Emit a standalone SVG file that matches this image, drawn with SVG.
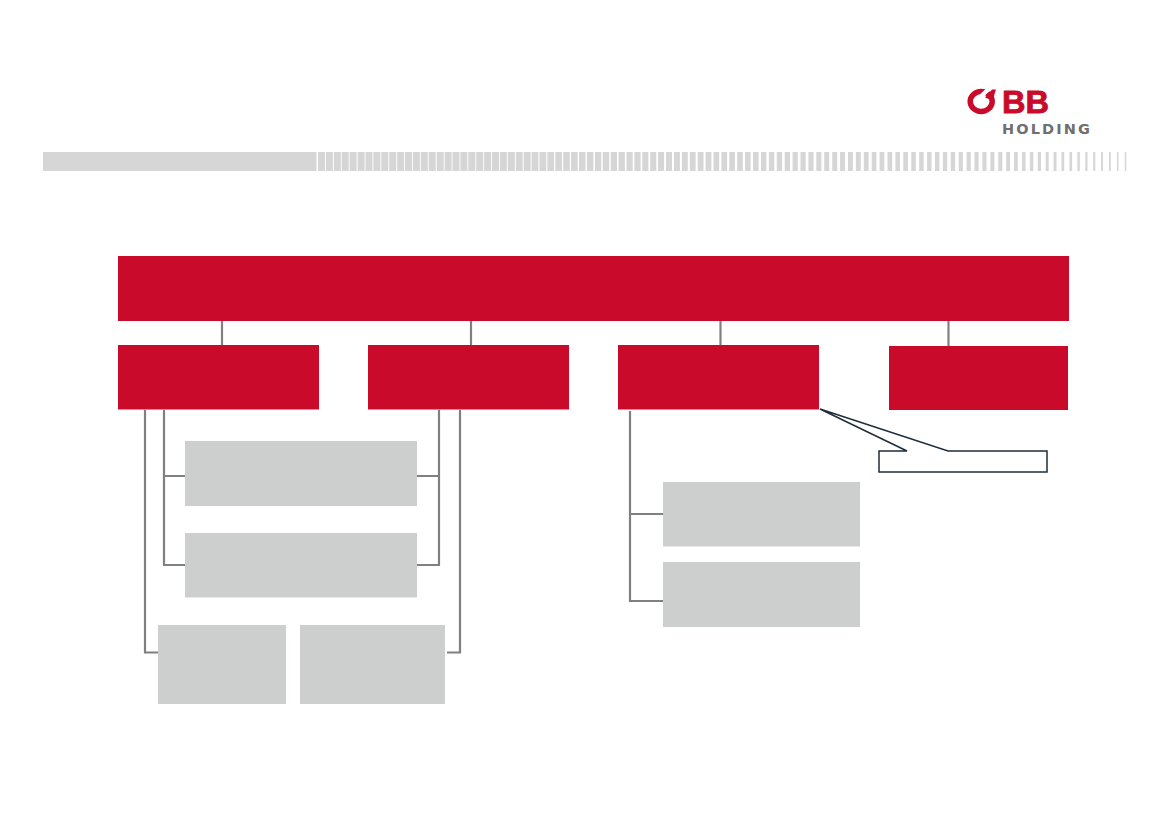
<svg xmlns="http://www.w3.org/2000/svg" width="1169" height="826" viewBox="0 0 1169 826">
<style>
.red{fill:#c90a2a}
.grey{fill:#cdcfce}
.band{fill:#d6d6d6}
.conn{fill:none;stroke:#808080;stroke-width:2.2}
</style>
<rect width="1169" height="826" fill="#fff"/>
<g id="logo">
<ellipse cx="981.200" cy="101.500" rx="11" ry="10" fill="none" stroke="#c90a2a" stroke-width="5.500"/>
<path d="M977 97L990 85L994 87L980 100Z" fill="#fff"/>
<path d="M985 97.500L992 89.500L996 89.500L992.500 100.500Z" fill="#c90a2a"/>
<text x="1002" y="113" font-size="31" fill="#c90a2a" stroke="#c90a2a" stroke-width="0.800" textLength="47" lengthAdjust="spacingAndGlyphs" font-family="'Liberation Sans',Arial,sans-serif" font-weight="700">BB</text>
<text x="1002" y="134" font-size="14.500" fill="#6f6f6f" textLength="88" lengthAdjust="spacing" font-family="'DejaVu Sans',sans-serif" font-weight="700">HOLDING</text>
</g>
<g id="band">
<rect class="band" x="43" y="152" width="273.500" height="19"/>
<path class="band" d="M318 152h7v19h-7zM325.900 152h6.900v19h-6.900zM333.800 152h7v19h-7zM341.700 152h7v19h-7zM349.600 152h7v19h-7zM357.600 152h7v19h-7zM365.500 152h7v19h-7zM373.400 152h7v19h-7zM381.300 152h7v19h-7zM389.200 152h7v19h-7zM397.100 152h7v19h-7zM405 152h7v19h-7zM412.900 152h7v19h-7zM420.800 152h7v19h-7zM428.700 152h7v19h-7zM436.700 152h7v19h-7zM444.600 152h7v19h-7zM452.500 152h7v19h-7zM460.400 152h7v19h-7zM468.300 152h7v19h-7zM476.200 152h7v19h-7zM484.100 152h7v19h-7zM492 152h7v19h-7zM499.900 152h7v19h-7zM507.800 152h7v19h-7zM515.800 152h6.900v19h-6.900zM523.700 152h6.900v19h-6.900zM531.600 152h6.800v19h-6.800zM539.500 152h6.800v19h-6.800zM547.400 152h6.700v19h-6.700zM555.300 152h6.700v19h-6.700zM563.200 152h6.600v19h-6.600zM571.100 152h6.600v19h-6.600zM579 152h6.500v19h-6.500zM586.900 152h6.500v19h-6.500zM594.900 152h6.400v19h-6.400zM602.800 152h6.400v19h-6.400zM610.700 152h6.300v19h-6.300zM618.600 152h6.300v19h-6.300zM626.500 152h6.200v19h-6.200zM634.400 152h6.200v19h-6.200zM642.300 152h6.100v19h-6.100zM650.200 152h6.100v19h-6.100zM658.100 152h6v19h-6zM666 152h6v19h-6zM674 152h5.900v19h-5.900zM681.900 152h5.900v19h-5.900zM689.800 152h5.800v19h-5.800zM697.700 152h5.800v19h-5.800zM705.600 152h5.800v19h-5.800zM713.500 152h5.700v19h-5.700zM721.400 152h5.700v19h-5.700zM729.300 152h5.600v19h-5.600zM737.200 152h5.600v19h-5.600zM745.100 152h5.500v19h-5.500zM753.100 152h5.500v19h-5.500zM761 152h5.400v19h-5.400zM768.900 152h5.400v19h-5.400zM776.800 152h5.300v19h-5.300zM784.700 152h5.300v19h-5.300zM792.600 152h5.200v19h-5.200zM800.500 152h5.200v19h-5.200zM808.400 152h5.100v19h-5.100zM816.300 152h5.100v19h-5.100zM824.200 152h5v19h-5zM832.200 152h5v19h-5zM840.100 152h4.900v19h-4.900zM848 152h4.900v19h-4.900zM855.900 152h4.800v19h-4.800zM863.800 152h4.800v19h-4.800zM871.700 152h4.700v19h-4.700zM879.600 152h4.700v19h-4.700zM887.500 152h4.700v19h-4.700zM895.400 152h4.600v19h-4.600zM903.300 152h4.600v19h-4.600zM911.300 152h4.500v19h-4.500zM919.200 152h4.500v19h-4.500zM927.100 152h4.400v19h-4.400zM935 152h4.400v19h-4.400zM942.900 152h4.300v19h-4.300zM950.800 152h4.300v19h-4.300zM958.700 152h4.200v19h-4.200zM966.600 152h4.200v19h-4.200zM974.500 152h4.100v19h-4.100zM982.400 152h4.100v19h-4.100zM990.400 152h4v19h-4zM998.300 152h4v19h-4zM1006.200 152h3.800v19h-3.800zM1014.100 152h3.700v19h-3.700zM1022 152h3.500v19h-3.500zM1029.900 152h3.400v19h-3.400zM1037.800 152h3.200v19h-3.200zM1045.700 152h3v19h-3zM1053.600 152h2.900v19h-2.900zM1061.500 152h2.700v19h-2.700zM1069.500 152h2.600v19h-2.600zM1077.400 152h2.400v19h-2.400zM1085.300 152h2.200v19h-2.200zM1093.200 152h2.100v19h-2.100zM1101.100 152h1.900v19h-1.900zM1109 152h1.800v19h-1.800zM1116.900 152h1.600v19h-1.600zM1124.800 152h1.500v19h-1.500z"/>
</g>
<g id="connectors">
<path class="conn" d="M222 321V345M471 321V345M720.500 321V345M948.500 321V346"/>
<path class="conn" d="M145 410V652.500H158M164 410V565H185M164 476H185"/>
<path class="conn" d="M417 476H439M439 410V565H417M460 410V652.500H447"/>
<path class="conn" d="M630 411V601H663M630 514H663"/>
</g>
<g id="node-top"><rect class="red" x="118" y="256" width="951" height="65"/></g>
<g id="node-a"><rect class="red" x="118" y="345" width="201" height="64.500"/></g>
<g id="node-b"><rect class="red" x="368" y="345" width="201" height="64.500"/></g>
<g id="node-c"><rect class="red" x="618" y="345" width="201" height="64.500"/></g>
<g id="node-d"><rect class="red" x="889" y="346" width="179" height="64"/></g>
<g id="node-a1"><rect class="grey" x="185" y="441" width="232" height="65"/></g>
<g id="node-a2"><rect class="grey" x="185" y="533" width="232" height="64.500"/></g>
<g id="node-a3"><rect class="grey" x="158" y="625" width="128" height="79"/></g>
<g id="node-b3"><rect class="grey" x="300" y="625" width="145" height="79"/></g>
<g id="node-c1"><rect class="grey" x="663" y="482" width="197" height="64.500"/></g>
<g id="node-c2"><rect class="grey" x="663" y="562" width="197" height="65"/></g>
<g id="callout"><path d="M820 409L907 451H879V472H1047V451H948Z" fill="#fff" stroke="#1f2d3a" stroke-width="1.500"/></g>
</svg>
